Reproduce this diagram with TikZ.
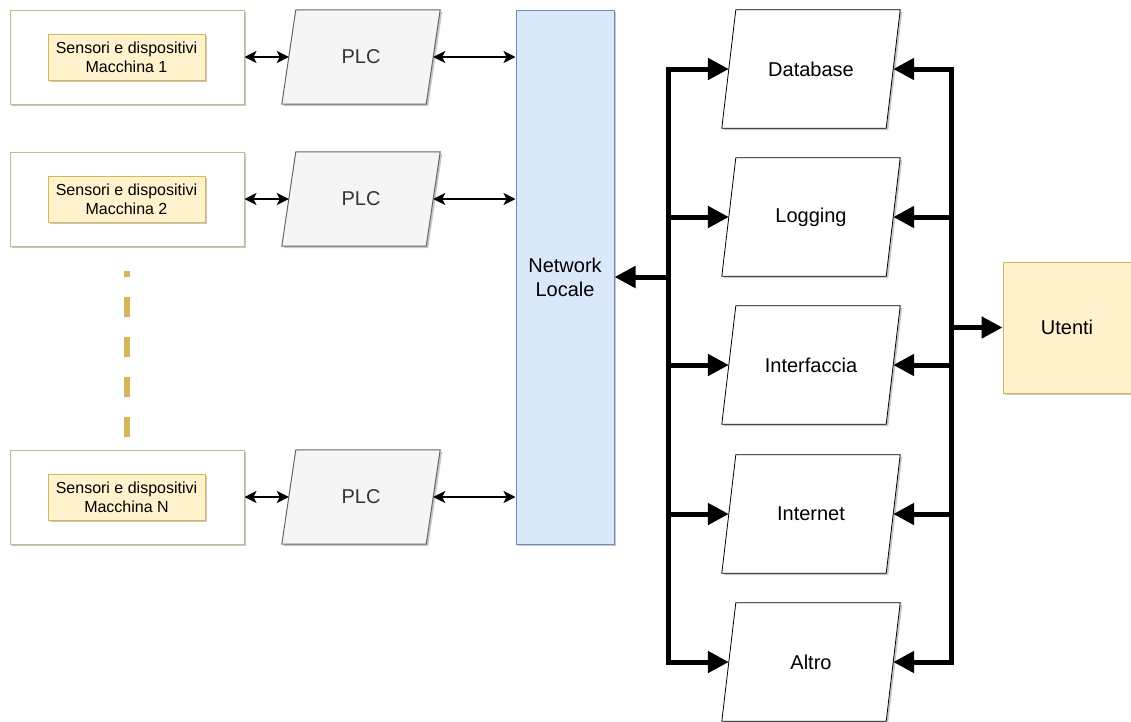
\documentclass[tikz,border=0pt]{standalone}
\usepackage{fontspec}
\setmainfont{Liberation Sans}
\usetikzlibrary{arrows.meta,shadows,backgrounds}

\definecolor{boxedge}{HTML}{C8B98A}
\definecolor{yelfill}{HTML}{FFF2CC}
\definecolor{yeledge}{HTML}{D6B656}
\definecolor{grayfill}{HTML}{F5F5F5}
\definecolor{grayedge}{HTML}{666666}
\definecolor{graytext}{HTML}{333333}
\definecolor{bluefill}{HTML}{DAE8FC}
\definecolor{blueedge}{HTML}{6C8EBF}

\tikzset{
  shade/.style={drop shadow={shadow xshift=2pt,shadow yshift=-2pt,opacity=0.22,fill=black}},
  machine/.style={draw=boxedge,fill=white,line width=1pt,minimum width=234pt,minimum height=94pt,shade},
  sensor/.style={draw=yeledge,fill=yelfill,line width=1pt,minimum width=157pt,minimum height=46pt,
    align=center,inner sep=0pt,font=\fontsize{16}{19.2}\selectfont,shade},
  % text part of a slanted box: its width is the mid-height width of the outline
  plcbox/.style={minimum width=144pt,minimum height=94pt,inner sep=0pt,
    text=graytext,font=\fontsize{20}{24}\selectfont},
  service/.style={minimum width=164pt,minimum height=118pt,inner sep=0pt,
    font=\fontsize{20}{24}\selectfont},
  plcshape/.style={draw=grayedge,fill=grayfill,line width=1pt,shade},
  serviceshape/.style={draw=black,fill=white,line width=0.8pt,shade},
  netbox/.style={draw=blueedge,fill=bluefill,line width=1pt,minimum width=98pt,minimum height=534pt,
    align=center,font=\fontsize{20}{24}\selectfont,shade},
  userbox/.style={draw=yeledge,fill=yelfill,line width=1pt,minimum width=128pt,minimum height=131pt,
    font=\fontsize{20}{24}\selectfont,shade},
  link/.style={line width=2.4pt,{Stealth[length=12pt,width=12pt,inset=3pt]}-{Stealth[length=12pt,width=12pt,inset=3pt]}},
  bus/.style={line width=5pt,line cap=rect},
  busarrow/.style={line width=5pt,-{Triangle[length=21pt,width=21pt]}},
  ellipsis/.style={draw=yeledge,line width=6pt,dash pattern=on 20pt off 20pt}
}

\begin{document}
\begin{tikzpicture}[x=1pt,y=-1pt]
\useasboundingbox (0,0) rectangle (1131,721);

% machines with their sensor blocks
\node[machine] (m1) at (127,57) {};
\node[sensor]  (s1) at (126.5,57) {Sensori e dispositivi\\Macchina 1};
\node[machine] (m2) at (127,199) {};
\node[sensor]  (s2) at (126.5,199) {Sensori e dispositivi\\Macchina 2};
\node[machine] (mn) at (127,497) {};
\node[sensor]  (sn) at (126.5,497) {Sensori e dispositivi\\Macchina N};

% controllers
\node[plcbox] (p1) at (361,57) {PLC};
\node[plcbox] (p2) at (361,199) {PLC};
\node[plcbox] (pn) at (361,497) {PLC};

% local network
\node[netbox] (net) at (565,277) {Network\\Locale};

% services
\node[service] (db)  at (811,69)  {Database};
\node[service] (log) at (811,217) {Logging};
\node[service] (ui)  at (811,365) {Interfaccia};
\node[service] (www) at (811,514) {Internet};
\node[service] (alt) at (811,662) {Altro};

% users
\node[userbox] (ut) at (1067,327.5) {Utenti};

% slanted outlines behind the controller and service texts
\begin{scope}[on background layer]
  \foreach \n in {p1,p2,pn}{
    \draw[plcshape] ([xshift=-7pt]\n.south west) -- ([xshift=7pt]\n.north west)
      -- ([xshift=7pt]\n.north east) -- ([xshift=-7pt]\n.south east) -- cycle;
  }
  \foreach \n in {db,log,ui,www,alt}{
    \draw[serviceshape] ([xshift=-7pt]\n.south west) -- ([xshift=7pt]\n.north west)
      -- ([xshift=7pt]\n.north east) -- ([xshift=-7pt]\n.south east) -- cycle;
  }
\end{scope}

% machine <-> PLC <-> network
\foreach \m/\p in {m1/p1,m2/p2,mn/pn}{
  \draw[link] (\m.east) -- (\p.west);
  \draw[link] (\p.east) -- (\p.east -| net.west);
}

% more machines in between
\coordinate (dtop) at (127,271);
\coordinate (dbot) at (127,437);
\draw[ellipsis] (dbot) -- (dtop);

% left bus
\coordinate (lbus) at (668,0);
\draw[bus] (lbus |- db.west) -- (lbus |- alt.west);
\foreach \s in {db,log,ui,www,alt}{
  \draw[busarrow] (lbus |- \s.west) -- (\s.west);
}
\draw[busarrow] (lbus |- net.east) -- (net.east);

% right bus
\coordinate (rbus) at (951,0);
\draw[bus] (rbus |- db.east) -- (rbus |- alt.east);
\foreach \s in {db,log,ui,www,alt}{
  \draw[busarrow] (rbus |- \s.east) -- (\s.east);
}
\draw[busarrow] (rbus |- ut.west) -- (ut.west);
\end{tikzpicture}
\end{document}
